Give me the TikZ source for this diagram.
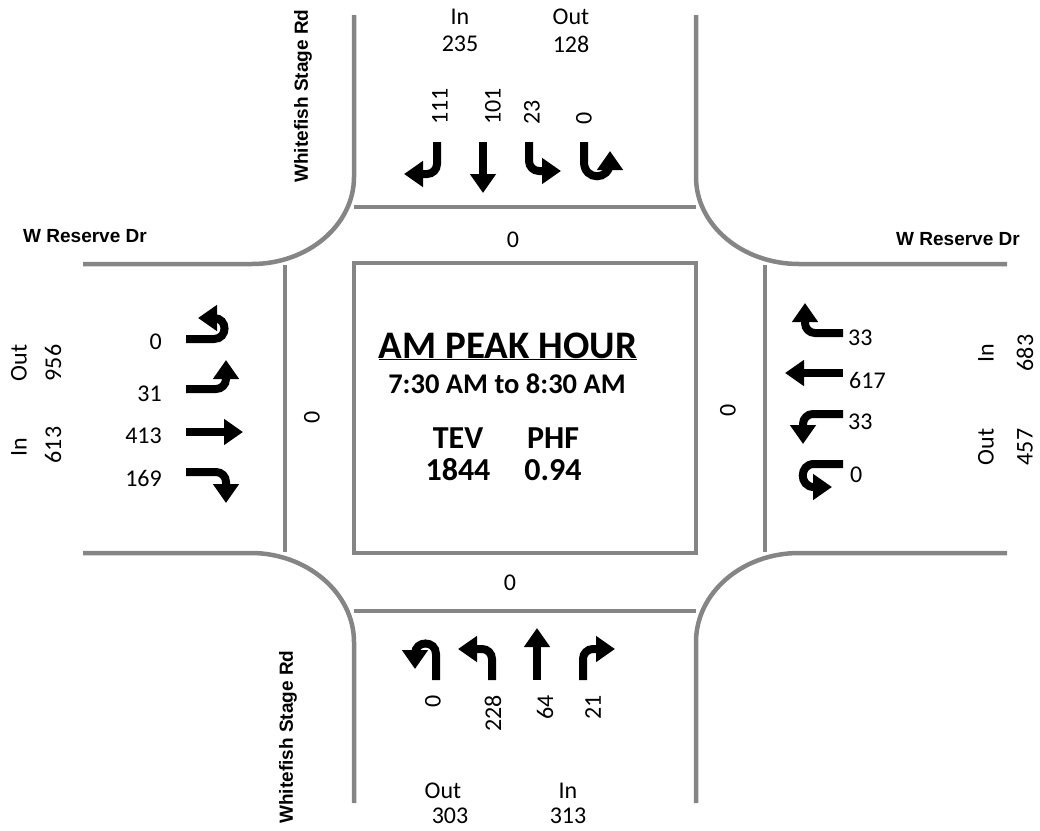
\documentclass[tikz,border=0pt]{standalone}
\usepackage{fontspec}
\setmainfont{Carlito}
\newfontfamily\roadfont{Liberation Sans}
\usetikzlibrary{arrows.meta}
\definecolor{roadgray}{HTML}{858585}

\begin{document}
\begin{tikzpicture}[x=1pt, y=-1pt,
  road/.style={draw=roadgray, line width=4.5pt},
  mvt/.style={line width=8pt, rounded corners=10pt,
              -{Triangle[width=25pt,length=19pt]}},
  uturn/.style={line width=8pt},
  vol/.style={font=\fontsize{24}{28}\selectfont, inner sep=0pt},
  roadname/.style={font=\roadfont\bfseries\fontsize{19}{23}\selectfont, inner sep=0pt},
  title/.style={font=\bfseries\fontsize{39}{45}\selectfont, inner sep=0pt},
  stat/.style={font=\bfseries\fontsize{32}{38}\selectfont, inner sep=0pt}]
  \useasboundingbox (0,0) rectangle (1040,830);
  % Curb lines
  \draw[road] (83,264) -- (252,264) .. controls (308,264) and (354,225) .. (354,177) -- (354,15);
  \draw[road] (696,15) -- (696,177) .. controls (696,225) and (742,264) .. (799,264) -- (1007,264);
  \draw[road] (83,553) -- (251,553) .. controls (307,553) and (354,593) .. (354,642) -- (354,803);
  \draw[road] (1007,553) -- (799,553) .. controls (742,553) and (696,593) .. (696,642) -- (696,803);
  % Stop lines and center box
  \draw[road] (354,207) -- (696,207);
  \draw[road] (354,611) -- (696,611);
  \draw[road] (285,265) -- (285,552);
  \draw[road] (765,265) -- (765,552);
  \draw[road] (354,263) rectangle (696,553);
  % Road names
  \node[roadname] (wres) at (85,236) {W Reserve Dr};
  \node[roadname] (eres) at (958,239) {W Reserve Dr};
  \node[roadname, rotate=90] (nwhite) at (303,96) {Whitefish Stage Rd};
  \node[roadname, rotate=90] (swhite) at (288,737) {Whitefish Stage Rd};
  % In / Out totals
  \node[vol] (nin) at (460,17) {In};
  \node[vol] (ninv) at (460,44) {235};
  \node[vol] (nout) at (571,17) {Out};
  \node[vol] (noutv) at (571,44) {128};
  \node[vol] (sout) at (443,791) {Out};
  \node[vol] (soutv) at (450,816) {303};
  \node[vol] (sin) at (568,791) {In};
  \node[vol] (sinv) at (568,816) {313};
  \node[vol, rotate=90] (wout) at (19,363) {Out};
  \node[vol, rotate=90] (woutv) at (53,363) {956};
  \node[vol, rotate=90] (win) at (19,447) {In};
  \node[vol, rotate=90] (winv) at (53,445) {613};
  \node[vol, rotate=90] (ein) at (986,353) {In};
  \node[vol, rotate=90] (einv) at (1025,353) {683};
  \node[vol, rotate=90] (eout) at (986,447) {Out};
  \node[vol, rotate=90] (eoutv) at (1025,447) {457};
  % Crosswalk counts
  \node[vol] (ncross) at (513,240) {0};
  \node[vol] (scross) at (510,583) {0};
  \node[vol, rotate=90] (wcross) at (312,417) {0};
  \node[vol, rotate=90] (ecross) at (728,410) {0};
  % Southbound
  \draw[mvt] (437,142) |- (404,174);
  \draw[mvt] (483,142) -- (483,193);
  \draw[mvt] (529,142) |- (561,171);
  \draw[uturn] (584,142) -- (584,162) .. controls (584,181) and (610,181) .. (610,162);
  \draw[mvt] (610,170) -- (610,151);
  \node[vol, rotate=90, anchor=west] (sbr) at (440,125) {111};
  \node[vol, rotate=90, anchor=west] (sbt) at (493,125) {101};
  \node[vol, rotate=90, anchor=west] (sbl) at (532,125) {23};
  \node[vol, rotate=90, anchor=west] (sbu) at (584,125) {0};
  % Eastbound
  \draw[uturn] (186,339) -- (214,339) .. controls (228,339) and (228,318) .. (214,318);
  \draw[mvt] (217,318) -- (198,318);
  \draw[mvt] (186,389) -| (226,360);
  \draw[mvt] (186,432) -- (243,432);
  \draw[mvt] (186,472) -| (226,503);
  \node[vol, anchor=east] (ebu) at (162,342) {0};
  \node[vol, anchor=east] (ebl) at (162,394) {31};
  \node[vol, anchor=east] (ebt) at (162,436) {413};
  \node[vol, anchor=east] (ebr) at (162,478) {169};
  % Westbound
  \draw[mvt] (843,333) -| (805,303);
  \draw[mvt] (843,373) -- (785,373);
  \draw[mvt] (843,414) -| (803,444);
  \draw[uturn] (843,464) -- (814,464) .. controls (799,464) and (799,487) .. (814,487);
  \draw[mvt] (813,487) -- (832,487);
  \node[vol, anchor=west] (wbr) at (848,338) {33};
  \node[vol, anchor=west] (wbt) at (849,380) {617};
  \node[vol, anchor=west] (wbl) at (848,422) {33};
  \node[vol, anchor=west] (wbu) at (850,475) {0};
  % Northbound
  \draw[uturn] (436,680) -- (436,654) .. controls (436,640) and (415,640) .. (415,654);
  \draw[mvt] (415,650) -- (415,669);
  \draw[mvt] (492,680) |- (458,649);
  \draw[mvt] (537,680) -- (537,628);
  \draw[mvt] (583,680) |- (615,649);
  \node[vol, rotate=90, anchor=east] (nbu) at (433,695) {0};
  \node[vol, rotate=90, anchor=east] (nbl) at (493,695) {228};
  \node[vol, rotate=90, anchor=east] (nbt) at (545,695) {64};
  \node[vol, rotate=90, anchor=east] (nbr) at (593,695) {21};
  % Peak hour summary
  \node[title, anchor=base] (peak) at (508,358) {\underline{AM PEAK HOUR}};
  \node[stat, font=\bfseries\fontsize{28.5}{34}\selectfont, anchor=base] (period) at (507,393) {7:30 AM to 8:30 AM};
  \node[stat, anchor=base] (tev) at (458,448) {TEV};
  \node[stat, anchor=base] (phf) at (553,448) {PHF};
  \node[stat, anchor=base] (tevval) at (458,480) {1844};
  \node[stat, anchor=base] (phfval) at (553,480) {0.94};
\end{tikzpicture}
\end{document}
